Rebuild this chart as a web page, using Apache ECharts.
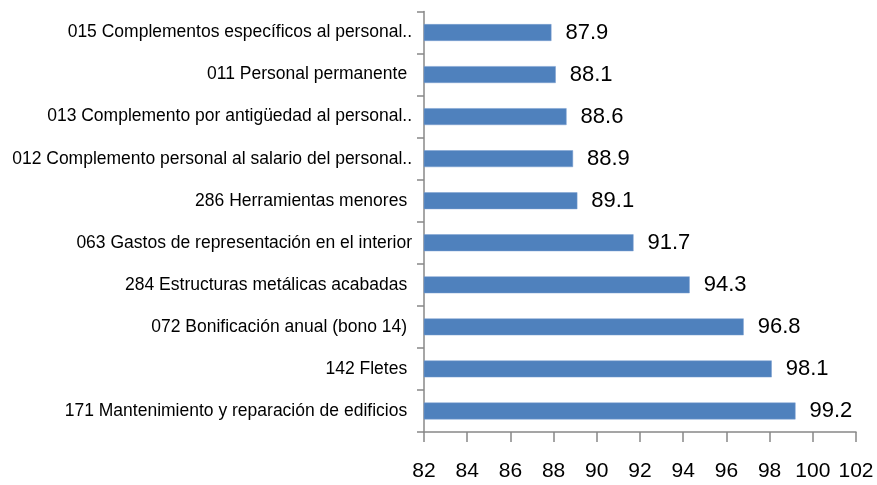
<!DOCTYPE html>
<html>
<head>
<meta charset="utf-8">
<script src="https://cdn.jsdelivr.net/npm/echarts@6/dist/echarts.min.js"></script>
<style>
  html, body { margin: 0; padding: 0; background: #fff; }
  #chart { width: 877px; height: 485px; }
</style>
</head>
<body>
<div id="chart"></div>
<script>
// categories from top to bottom
const categories = [
  '015 Complementos específicos al personal..',
  '011 Personal permanente ',
  '013 Complemento por antigüedad al personal..',
  '012 Complemento personal al salario del personal..',
  '286 Herramientas menores ',
  '063 Gastos de representación en el interior',
  '284 Estructuras metálicas acabadas ',
  '072 Bonificación anual (bono 14) ',
  '142 Fletes ',
  '171 Mantenimiento y reparación de edificios '
]
const values = [87.9, 88.1, 88.6, 88.9, 89.1, 91.7, 94.3, 96.8, 98.1, 99.2]
const axisMin = 82
const axisMax = 102
const axisStep = 2

const font = '"Liberation Sans", Arial, sans-serif'

const chart = echarts.init(document.getElementById('chart'))
chart.setOption({
  animation: false,
  grid: { left: 424, right: 21, top: 11.5, bottom: 53, containLabel: false, outerBoundsMode: 'none' },
  xAxis: {
    type: 'value',
    min: axisMin,
    max: axisMax,
    interval: axisStep,
    splitLine: { show: false },
    axisLine: { show: true, lineStyle: { color: '#888', width: 1.5 } },
    axisTick: { show: true, length: 10, lineStyle: { color: '#888', width: 1.5 } },
    axisLabel: { color: '#000', fontSize: 21, fontFamily: font, margin: 29, hideOverlap: false, showMaxLabel: true, showMinLabel: true }
  },
  yAxis: {
    type: 'category',
    inverse: true,
    data: categories,
    axisLine: { show: true, lineStyle: { color: '#888', width: 1.5 } },
    axisTick: { show: true, length: 7, interval: 0, lineStyle: { color: '#888', width: 1.5 } },
    axisLabel: { color: '#000', fontSize: 17.5, fontFamily: font, margin: 12, interval: 0 }
  },
  series: [{
    type: 'bar',
    data: values,
    barCategoryGap: '60%',
    itemStyle: { color: '#4F81BD', borderColor: '#7a9fd0', borderWidth: 0.5 },
    label: {
      show: true,
      position: 'right',
      distance: 14,
      color: '#000',
      fontSize: 22,
      fontFamily: font,
      formatter: p => p.value.toFixed(1)
    }
  }]
})
</script>
</body>
</html>
